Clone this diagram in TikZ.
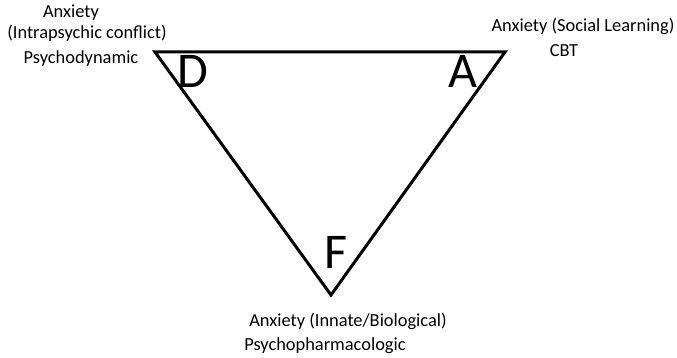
\documentclass[tikz,border=0pt]{standalone}
\usepackage{fontspec}
\setmainfont{Carlito}
\begin{document}
\begin{tikzpicture}[x=1pt,y=-1pt,
  lbl/.style={anchor=base,inner sep=0pt,font=\fontsize{18.4}{22}\selectfont},
  big/.style={anchor=base,inner sep=0pt,font=\fontsize{50}{56}\selectfont},
  edge/.style={line width=3pt,line join=miter}]
\useasboundingbox (0,0) rectangle (677,358);
\coordinate (TL) at (155,52);
\coordinate (TR) at (505,52);
\coordinate (B) at (331,295);
\draw[edge] (TL) -- (TR) -- (B) -- cycle;
\node[big] (D) at (193,88) {D};
\node[big] (A) at (463,88) {A};
\node[big] (F) at (336,268) {F};
\node[lbl] (l1) at (71,18) {Anxiety};
\node[lbl] (l2) at (87,39) {(Intrapsychic conflict)};
\node[lbl] (l3) at (81,64) {Psychodynamic};
\node[lbl] (r1) at (583,32) {Anxiety (Social Learning)};
\node[lbl] (r2) at (564,57) {CBT};
\node[lbl] (b1) at (348,326) {Anxiety (Innate/Biological)};
\node[lbl] (b2) at (325,350) {Psychopharmacologic};
\end{tikzpicture}
\end{document}
